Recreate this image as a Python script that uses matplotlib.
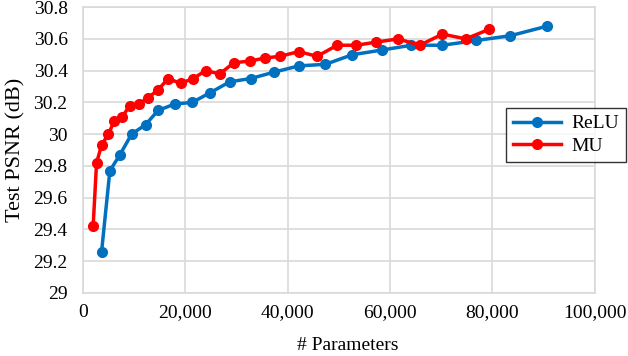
import numpy as np
import matplotlib.pyplot as plt
from matplotlib.ticker import FuncFormatter

relu_params = [3650, 5270, 7230, 9510, 12240, 14710, 17970, 21350, 24800, 28710,
               32750, 37300, 42190, 47400, 52600, 58460, 64190, 70250, 76890, 83530, 90690]
relu_psnr = [29.26, 29.77, 29.87, 30.00, 30.06, 30.15, 30.19, 30.20, 30.26, 30.33,
             30.35, 30.39, 30.43, 30.44, 30.50, 30.53, 30.56, 30.56, 30.59, 30.62, 30.68]

mu_params = [2000, 2670, 3650, 4950, 6120, 7680, 9180, 10940, 12760, 14710,
             16660, 19080, 21550, 23960, 26760, 29490, 32620, 35620, 38500, 42190,
             45760, 49670, 53450, 57360, 61580, 65820, 70250, 74800, 79360]
mu_psnr = [29.42, 29.82, 29.93, 30.00, 30.08, 30.11, 30.18, 30.19, 30.23, 30.28,
           30.35, 30.32, 30.35, 30.40, 30.38, 30.45, 30.46, 30.48, 30.49, 30.52,
           30.49, 30.56, 30.56, 30.58, 30.60, 30.56, 30.63, 30.60, 30.66]

plt.rcParams['font.family'] = ['Liberation Serif', 'DejaVu Serif']
fig = plt.figure(figsize=(6.28, 3.56), dpi=100)
ax = fig.add_axes([0.132, 0.177, 0.815, 0.803])

ax.plot(relu_params, relu_psnr, color='#0070C0', linewidth=2.5, marker='o', markersize=7, label='ReLU')
ax.plot(mu_params, mu_psnr, color='#FF0000', linewidth=2.5, marker='o', markersize=7, label='MU')

ax.set_xlim(0, 100000)
ax.set_ylim(29, 30.8)
ax.set_xticks(np.arange(0, 100001, 20000))
ax.set_yticks(np.arange(29, 30.81, 0.2))
ax.xaxis.set_major_formatter(FuncFormatter(lambda v, p: '{:,.0f}'.format(v)))
ax.yaxis.set_major_formatter(FuncFormatter(lambda v, p: '{:g}'.format(round(v, 1))))
ax.tick_params(axis='y', length=0, labelsize=14, pad=11)
ax.tick_params(axis='x', length=0, labelsize=14, pad=8)
ax.grid(True, color='#d9d9d9', linewidth=1.2)
ax.set_axisbelow(True)
for s in ax.spines.values():
    s.set_color('#d9d9d9')
    s.set_linewidth(1.2)

ax.set_xlabel('# Parameters', fontsize=14)
ax.xaxis.set_label_coords(0.518, -0.155)
ax.set_ylabel('Test PSNR (dB)', fontsize=16, labelpad=6)

leg = ax.legend(loc='upper left', bbox_to_anchor=(506 / 628, 1 - 108 / 356),
                bbox_transform=fig.transFigure, fontsize=14, frameon=True,
                fancybox=False, edgecolor='black', borderpad=0.35,
                handlelength=2.5, handletextpad=0.5, labelspacing=0.25,
                borderaxespad=0)
leg.get_frame().set_linewidth(1.0)

fig.savefig('out.png', dpi=100)
